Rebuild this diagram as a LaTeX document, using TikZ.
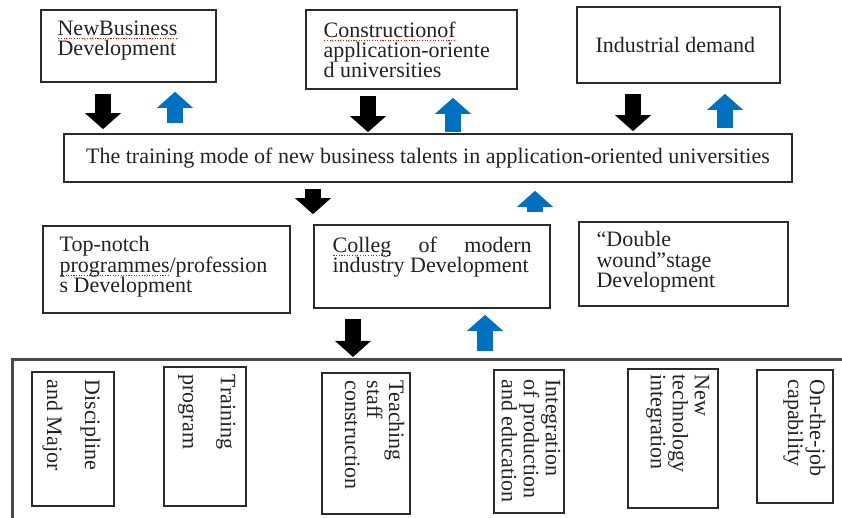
\documentclass[tikz,border=0pt]{standalone}
\usepackage{fontspec}
\setmainfont{Liberation Serif}
\usetikzlibrary{arrows.meta,calc}

\definecolor{ink}{HTML}{222222}
\definecolor{rim}{HTML}{2B2B2B}
\definecolor{upblue}{HTML}{0070C0}
\definecolor{framegray}{HTML}{4A4A4A}

\newlength\spellwd
\newcommand\spellmark[1]{\settowidth{\spellwd}{#1}%
  \rlap{\color{red}\raisebox{-2pt}{\hbox to\spellwd{\xleaders\hbox to 1.3pt{\hss\rule{0.55pt}{0.55pt}\hss}\hfill}}}#1}

\begin{document}
\begin{tikzpicture}[x=0.5pt,y=-0.5pt]
    \tikzstyle{box}=[draw=rim, line width=0.8pt, inner sep=0pt, text=ink, font=\fontsize{11}{10.2}\selectfont]
    \tikzstyle{txt}=[inner sep=0pt, anchor=north west, align=left, text=ink, font=\fontsize{11}{10.2}\selectfont]
    \tikzstyle{vtxt}=[txt, rotate=-90, font=\fontsize{11}{11}\selectfont]
    \tikzstyle{dnarrow}=[-{Triangle[width=17.5pt,length=8pt]}, line width=8pt, color=black]
    \tikzstyle{uparrow}=[dnarrow, color=upblue]
    \useasboundingbox (0,0) rectangle (842,518);

    \node[box, minimum width=87.5pt, minimum height=36pt] (newbiz) at (128.5,46) {};
    \node[txt] (newbiz-t) at ($(newbiz.north west)+(17,11)$) {\spellmark{NewBusiness}\\Development};
    \node[box, minimum width=105.5pt, minimum height=39.5pt] (constr) at (411.5,49.5) {};
    \node[txt] (constr-t) at ($(constr.north west)+(18,12)$) {\spellmark{Constructionof}\\application-oriente\\d universities};
    \node[box, minimum width=101.5pt, minimum height=38pt] (demand) at (678.5,45) {};
    \node[txt] (demand-t) at ($(demand.north west)+(19,31)$) {Industrial demand};

    \node[box, minimum width=364pt, minimum height=24pt] (mode) at (428,158)
        {The training mode of new business talents in application-oriented universities};

    \node[box, minimum width=123.5pt, minimum height=43.5pt] (topnotch) at (166.5,269.5) {};
    \node[txt] (topnotch-t) at ($(topnotch.north west)+(17,11)$) {Top-notch\\\spellmark{programmes}/profession\\s Development};
    \node[box, minimum width=118pt, minimum height=41.5pt] (college) at (432,266.5) {};
    \node[txt] (college-t) at ($(college.north west)+(19,12)$) {\makebox[99.5pt][s]{\spellmark{Colleg} of modern}\\industry Development};
    \node[box, minimum width=104.5pt, minimum height=42pt] (stage) at (683.5,264) {};
    \node[txt] (stage-t) at ($(stage.north west)+(18,10)$) {“Double\\wound”stage\\Development};

    \node[box, draw=framegray, line width=1.3pt, minimum width=430pt, minimum height=100pt, anchor=north west] (base) at (11,358) {};

    \node[box, minimum width=41pt, minimum height=67pt] (disc) at (73,439) {};
    \node[vtxt] (disc-t) at ($(disc.north east)+(-14,8)$) {Discipline\\[8pt]and Major};
    \node[box, minimum width=41pt, minimum height=69.5pt] (train) at (205,436.5) {};
    \node[vtxt] (train-t) at ($(train.north east)+(-11,8)$) {Training\\[8pt]program};
    \node[box, minimum width=44pt, minimum height=70.5pt] (staff) at (366,443.5) {};
    \node[vtxt] (staff-t) at ($(staff.north east)+(-6,8)$) {Teaching\\staff\\construction};
    \node[box, minimum width=35pt, minimum height=71.5pt] (integ) at (529,441.5) {};
    \node[vtxt] (integ-t) at ($(integ.north east)+(-4,10)$) {Integration\\of production\\and education};
    \node[box, minimum width=45pt, minimum height=69.5pt] (tech) at (673,438.5) {};
    \node[vtxt] (tech-t) at ($(tech.north east)+(-9,6)$) {New\\technology\\integration};
    \node[box, minimum width=38pt, minimum height=66.5pt] (job) at (795,436.5) {};
    \node[vtxt] (job-t) at ($(job.north east)+(-8,10)$) {On-the-job\\capability};

    \draw[dnarrow, shorten <=5.5pt, shorten >=2pt] (103,0 |- newbiz.south) -- (103,0 |- mode.north);
    \draw[uparrow, shorten <=5pt, shorten >=4.5pt] (175,0 |- mode.north) -- (175,0 |- newbiz.south);
    \draw[dnarrow, shorten <=3pt, shorten >=0.5pt] (368,0 |- constr.south) -- (368,0 |- mode.north);
    \draw[uparrow, shorten <=0.5pt, shorten >=4pt] (453,0 |- mode.north) -- (453,0 |- constr.south);
    \draw[dnarrow, shorten <=5pt, shorten >=1pt] (633,0 |- demand.south) -- (633,0 |- mode.north);
    \draw[uparrow, shorten <=2.5pt, shorten >=5pt] (725,0 |- mode.north) -- (725,0 |- demand.south);
    \draw[dnarrow, shorten <=3pt, shorten >=5pt] (313,0 |- mode.south) -- (313,0 |- college.north);
    \draw[uparrow, shorten <=6pt, shorten >=4pt] (535,0 |- college.north) -- (535,0 |- mode.south);
    \draw[dnarrow, shorten <=5pt, shorten >=0.5pt] (353,0 |- college.south) -- (353,0 |- base.north);
    \draw[uparrow, shorten <=3.5pt, shorten >=3pt] (485,0 |- base.north) -- (485,0 |- college.south);
\end{tikzpicture}
\end{document}
